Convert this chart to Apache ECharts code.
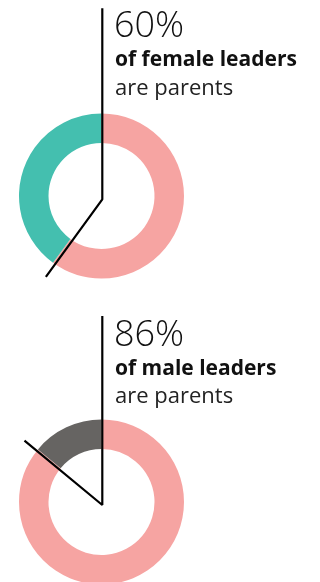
<!DOCTYPE html>
<html>
<head>
<meta charset="utf-8">
<style>
  html, body { margin: 0; padding: 0; background: #ffffff; }
  #chart { width: 320px; height: 582px; }
</style>
<script src="https://cdn.jsdelivr.net/npm/echarts@6/dist/echarts.min.js"></script>
</head>
<body>
<div id="chart"></div>
<script>
// ---- data ----
const groups = ['female leaders', 'male leaders'];
const parentPct = [60, 86];
const nonParentPct = [40, 14];
const pctLabels = ['60%', '86%'];
const subLabels = ['are parents', 'are parents'];

// ---- styling / layout ----
const pink = '#F6A4A2';
const otherColors = ['#44BFAF', '#666462'];
const pieCenters = [[101.5, 196], [101.5, 502]];
const polarCenters = [[102.3, 199.3], [102.3, 505]];
const topLen = [191, 189];
const pointerLen = [96, 101];
const textTop = [3.5, 312];
const fontFam = '"Open Sans", sans-serif';

const chart = echarts.init(document.getElementById('chart'), null, { renderer: 'canvas' });

const series = [];
const polar = [], angleAxis = [], radiusAxis = [];
const graphic = [];

groups.forEach((g, i) => {
  series.push({
    type: 'pie',
    center: pieCenters[i],
    radius: [53, 82.5],
    startAngle: 90,
    clockwise: true,
    silent: true,
    label: { show: false },
    labelLine: { show: false },
    data: [
      { name: 'Parents', value: parentPct[i], itemStyle: { color: pink } },
      { name: 'Not parents', value: nonParentPct[i], itemStyle: { color: otherColors[i] } }
    ]
  });
  polar.push({ center: polarCenters[i], radius: [0, 200] });
  angleAxis.push({ polarIndex: i, type: 'value', min: 0, max: 100, startAngle: 90, clockwise: true, show: false });
  radiusAxis.push({ polarIndex: i, type: 'value', min: 0, max: 200, show: false });
  series.push({
    type: 'line',
    coordinateSystem: 'polar',
    polarIndex: i,
    symbol: 'none',
    silent: true,
    z: 10,
    lineStyle: { color: '#000000', width: 2.2 },
    data: [[topLen[i], 0], [0, 0], [pointerLen[i], parentPct[i]]]
  });

  const t = textTop[i];
  graphic.push({
    type: 'text', left: 114, top: t + 5.6,
    style: { text: pctLabels[i], font: '300 36px ' + fontFam, fill: '#111111' }
  });
  graphic.push({
    type: 'text', left: 115, top: t + 46.4,
    style: { text: 'of ' + g, font: 'bold 21px ' + fontFam, fill: '#111111' }
  });
  graphic.push({
    type: 'text', left: 115, top: t + 73.8,
    style: { text: subLabels[i], font: 'normal 22px ' + fontFam, fill: '#222222' }
  });
});

chart.setOption({
  animation: false,
  backgroundColor: '#ffffff',
  polar: polar,
  angleAxis: angleAxis,
  radiusAxis: radiusAxis,
  series: series,
  graphic: graphic
});
</script>
</body>
</html>
